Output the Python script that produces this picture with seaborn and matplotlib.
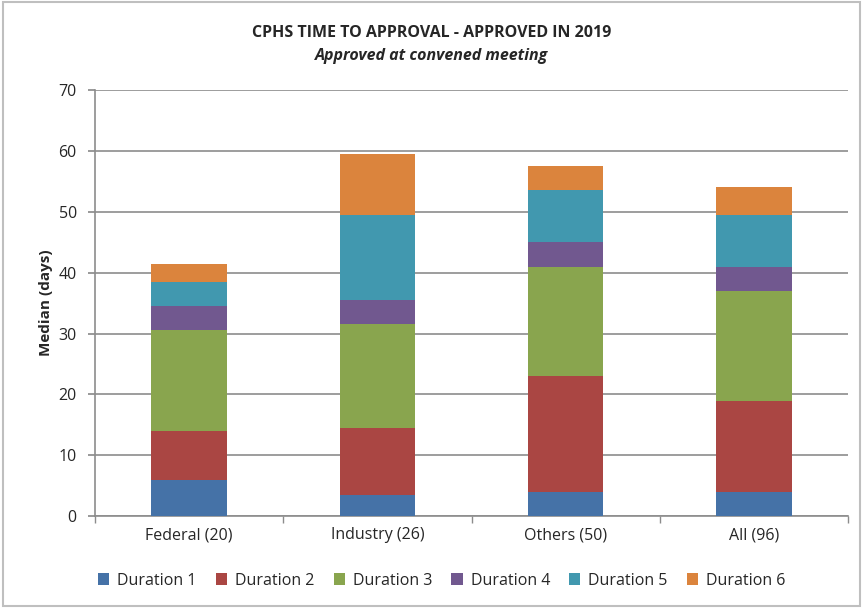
import matplotlib
matplotlib.use("Agg")
import matplotlib.pyplot as plt
import seaborn as sns
import numpy as np
import pandas as pd

categories = ["Federal (20)", "Industry (26)", "Others (50)", "All (96)"]
series_names = ["Duration 1", "Duration 2", "Duration 3", "Duration 4", "Duration 5", "Duration 6"]
duration1 = [6, 3.5, 4, 4]
duration2 = [8, 11, 19, 15]
duration3 = [16.5, 17, 18, 18]
duration4 = [4, 4, 4, 4]
duration5 = [4, 14, 8.5, 8.5]
duration6 = [3, 10, 4, 4.5]
series_values = [duration1, duration2, duration3, duration4, duration5, duration6]
colors = ["#4572A7", "#AA4643", "#89A54E", "#71588F", "#4198AF", "#DB843D"]

sns.set_theme(style="white")
plt.rcParams['font.family'] = ['Open Sans', 'DejaVu Sans']

fig = plt.figure(figsize=(8.63, 6.08), dpi=100)
ax = fig.add_axes([0.110, 0.151, 0.873, 0.701])

bottom = np.zeros(len(categories))
for name, vals, col in zip(series_names, series_values, colors):
    df = pd.DataFrame({"cat": categories, "val": vals})
    sns.barplot(data=df, x="cat", y="val", color=col, bottom=bottom, width=0.4,
                label=name, ax=ax, saturation=1, linewidth=0, zorder=3)
    bottom = bottom + np.array(vals)

handles, labels = ax.get_legend_handles_labels()
if ax.get_legend() is not None:
    ax.get_legend().remove()

ax.set_ylim(0, 70)
ax.set_xlim(-0.5, 3.5)
ax.set_yticks(range(0, 71, 10))
ax.yaxis.grid(True, color="#8c8c8c", linewidth=1.2, zorder=0)
ax.set_axisbelow(True)
ax.set_xlabel("")
ax.set_ylabel("Median (days)", fontsize=11, fontweight="bold", labelpad=4)
for s in ["top", "right"]:
    ax.spines[s].set_visible(False)
for s in ["left", "bottom"]:
    ax.spines[s].set_color("#8c8c8c")
    ax.spines[s].set_linewidth(1.2)
ax.tick_params(axis="y", which="major", length=5, color="#8c8c8c", direction="out", left=True, labelsize=11.5, pad=8)
ax.tick_params(axis="x", which="major", length=0, labelsize=11.5, pad=8)
ax.set_xticks([-0.5, 0.5, 1.5, 2.5, 3.5], minor=True)
ax.tick_params(axis="x", which="minor", length=5, color="#8c8c8c", direction="out", bottom=True)

fig.text(0.5, 0.945, "CPHS TIME TO APPROVAL - APPROVED IN 2019", ha="center", va="center",
         fontsize=11.5, fontweight="bold")
fig.text(0.5, 0.908, "Approved at convened meeting", ha="center", va="center",
         fontsize=11.5, fontweight="bold", style="italic")

fig.legend(handles, labels, loc="center", bbox_to_anchor=(0.512, 0.045), ncol=6, frameon=False,
           fontsize=11.5, handlelength=0.7, handleheight=0.7, columnspacing=1.2, handletextpad=0.5)

border = plt.Rectangle((0.003, 0.003), 0.994, 0.994, transform=fig.transFigure, fill=False,
                       edgecolor="#bfbfbf", linewidth=1.5)
fig.patches.append(border)

fig.savefig("out.png", dpi=100)
